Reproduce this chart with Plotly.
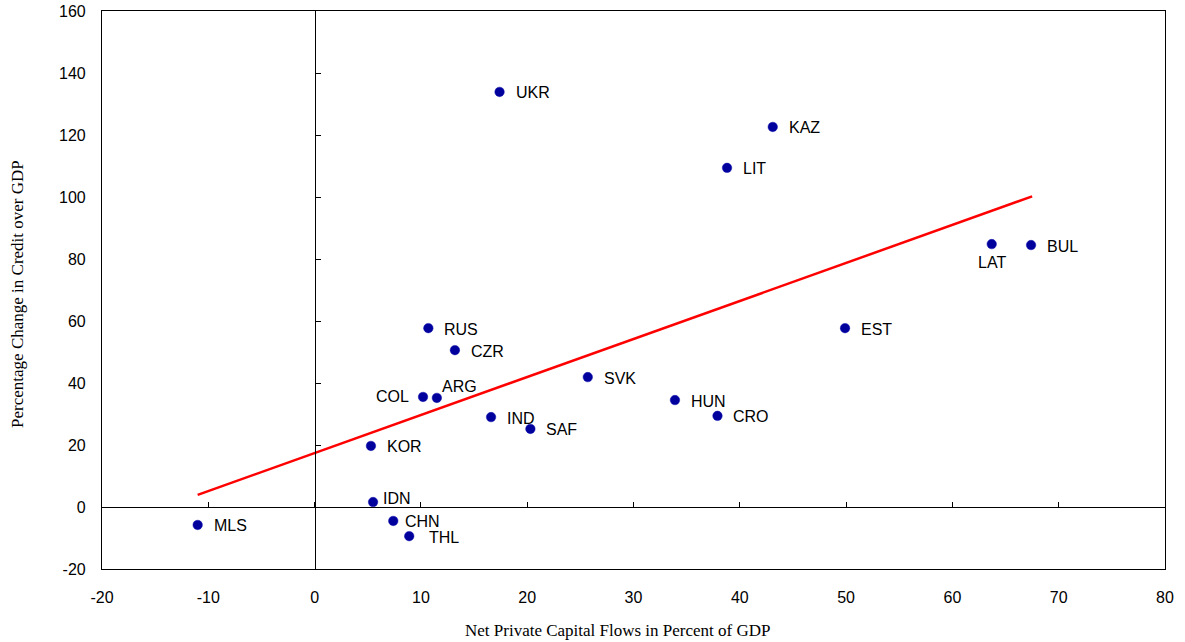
import plotly.graph_objects as go

countries = ["UKR", "KAZ", "LIT", "LAT", "BUL", "EST", "RUS", "CZR", "SVK", "ARG",
             "COL", "HUN", "CRO", "IND", "SAF", "KOR", "IDN", "CHN", "THL", "MLS"]
capital_flows = [17.4, 43.1, 38.8, 63.7, 67.4, 49.9, 10.7, 13.2, 25.7, 11.5,
                 10.2, 33.9, 37.9, 16.6, 20.3, 5.3, 5.5, 7.4, 8.9, -11.0]
credit_change = [133.9, 122.6, 109.4, 84.8, 84.5, 57.7, 57.7, 50.6, 41.9, 35.2,
                 35.5, 34.5, 29.4, 29.0, 25.2, 19.7, 1.6, -4.5, -9.4, -5.8]

trend_x = [-11.0, 67.5]
trend_y = [3.9, 100.2]

x_range = [-20, 80]
y_range = [-20, 160]
x_ticks = [-20, -10, 0, 10, 20, 30, 40, 50, 60, 70, 80]
x_tick_text = ["-20", "-10", "0", "10", "20", "30", "40", "50", "60", "70", "80"]
y_ticks = [-20, 0, 20, 40, 60, 80, 100, 120, 140, 160]
y_tick_text = ["-20", "0", "20", "40", "60", "80", "100", "120", "140", "160"]

# label placement (xanchor, xshift, yshift) per country
label_style = {
    "LAT": ("center", 0, -18),
    "COL": ("right", -12, 0),
    "ARG": ("left", 3, 11),
    "IDN": ("left", 8, 4),
    "CHN": ("left", 10, -1),
    "THL": ("left", 18, -1),
}

fig = go.Figure()

fig.add_trace(go.Scatter(
    x=trend_x, y=trend_y, mode="lines",
    line=dict(color="#ff0000", width=2.5), hoverinfo="skip", showlegend=False,
))
fig.add_trace(go.Scatter(
    x=capital_flows, y=credit_change, mode="markers",
    marker=dict(color="#00009c", size=9.5, line=dict(color="#1010b0", width=0.5)),
    text=countries, showlegend=False,
))
# invisible trace to activate zero-line axes with ticks
fig.add_trace(go.Scatter(
    x=capital_flows, y=credit_change, mode="markers", xaxis="x2", yaxis="y2",
    marker=dict(opacity=0), hoverinfo="skip", showlegend=False,
))

for c, x, y in zip(countries, capital_flows, credit_change):
    xa, xs, ys = label_style.get(c, ("left", 14, -1))
    fig.add_annotation(
        x=x, y=y, text=c, showarrow=False, xanchor=xa, yanchor="middle",
        xshift=xs, yshift=ys,
        font=dict(family="Liberation Sans, Arial", size=16, color="black"),
    )

tick_font = dict(family="Liberation Sans, Arial", size=16, color="black")
title_font = dict(family="Liberation Serif, Times New Roman", size=17, color="black")

fig.update_layout(
    width=1185, height=642,
    margin=dict(l=102, r=20, t=11, b=73, autoexpand=False),
    paper_bgcolor="white", plot_bgcolor="white",
    xaxis=dict(
        range=x_range, tickvals=x_ticks, ticktext=x_tick_text,
        showgrid=False, zeroline=False, automargin=False,
        showline=True, linecolor="black", linewidth=1.2, mirror=True,
        ticks="outside", ticklen=14, tickcolor="rgba(0,0,0,0)",
        tickfont=tick_font, ticklabeloverflow="allow",
    ),
    yaxis=dict(
        range=y_range, tickvals=y_ticks, ticktext=y_tick_text,
        showgrid=False, zeroline=False, automargin=False,
        showline=True, linecolor="black", linewidth=1.2, mirror=True,
        ticks="outside", ticklen=12, tickcolor="rgba(0,0,0,0)",
        tickfont=tick_font, ticklabeloverflow="allow",
    ),
    xaxis2=dict(
        range=x_range, tickvals=x_ticks, overlaying="x", anchor="free",
        position=(0 - y_range[0]) / (y_range[1] - y_range[0]),
        showgrid=False, zeroline=False, showline=True, linecolor="black", linewidth=1,
        ticks="inside", ticklen=5, tickcolor="black", showticklabels=False,
        automargin=False,
    ),
    yaxis2=dict(
        range=y_range, tickvals=y_ticks, overlaying="y", anchor="free",
        position=(0 - x_range[0]) / (x_range[1] - x_range[0]),
        showgrid=False, zeroline=False, showline=True, linecolor="black", linewidth=1,
        ticks="inside", ticklen=5, tickcolor="black", showticklabels=False,
        automargin=False,
    ),
)

fig.add_annotation(
    text="Net Private Capital Flows in Percent of GDP", xref="paper", yref="paper",
    x=0.485, y=0, yshift=-61, xanchor="center", yanchor="middle", showarrow=False,
    font=title_font,
)
fig.add_annotation(
    text="Percentage Change in Credit over GDP", xref="paper", yref="paper",
    x=0, xshift=-84, y=0.493, xanchor="center", yanchor="middle", showarrow=False,
    textangle=-90, font=title_font,
)

fig.write_html(
    "out.html",
    config={"displayModeBar": False},
    post_script="document.body.style.margin='0';document.body.style.padding='0';",
)
